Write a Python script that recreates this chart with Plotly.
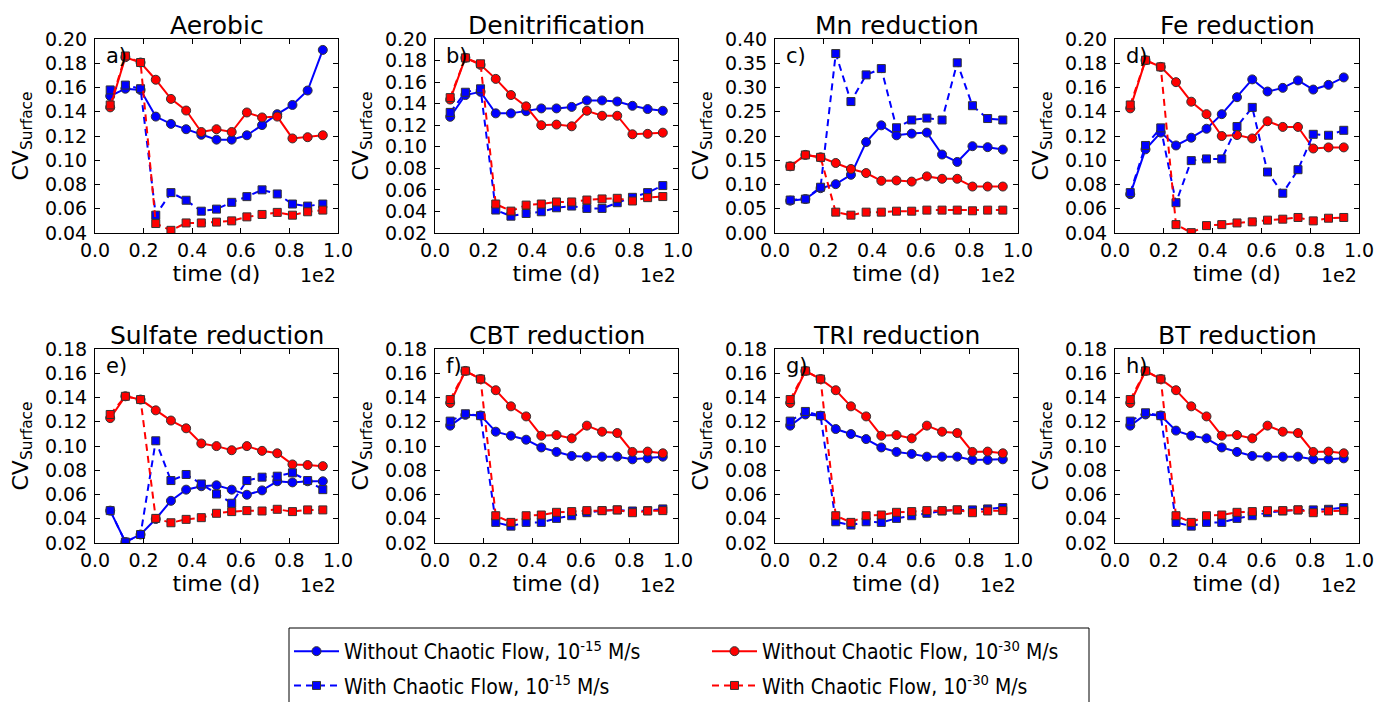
import plotly.graph_objects as go

W, H = 1375, 702

time_1e2 = [0.0625, 0.125, 0.1875, 0.25, 0.3125, 0.375, 0.4375, 0.5,
            0.5625, 0.625, 0.6875, 0.75, 0.8125, 0.875, 0.9375]

titles = ["Aerobic", "Denitrification", "Mn reduction", "Fe reduction",
          "Sulfate reduction", "CBT reduction", "TRI reduction", "BT reduction"]
letters = ["a)", "b)", "c)", "d)", "e)", "f)", "g)", "h)"]
y_ranges = [(0.04, 0.20), (0.02, 0.20), (0.0, 0.40), (0.04, 0.20),
            (0.02, 0.18), (0.02, 0.18), (0.02, 0.18), (0.02, 0.18)]
y_dticks = [0.02, 0.02, 0.05, 0.02, 0.02, 0.02, 0.02, 0.02]

# Without chaotic flow, 1e-15 M/s (blue solid)
blue_solid = [
    [0.153, 0.159, 0.158, 0.136, 0.130, 0.1256, 0.121, 0.117, 0.117, 0.1206, 0.129, 0.138, 0.1456, 0.1575, 0.191],
    [0.1278, 0.148, 0.151, 0.131, 0.131, 0.133, 0.1356, 0.1356, 0.137, 0.143, 0.143, 0.142, 0.138, 0.135, 0.1334],
    [0.0667, 0.070, 0.0924, 0.1007, 0.120, 0.1875, 0.222, 0.2014, 0.2049, 0.207, 0.1618, 0.1465, 0.179, 0.177, 0.172],
    [0.072, 0.109, 0.1228, 0.1122, 0.1186, 0.126, 0.138, 0.152, 0.1667, 0.1567, 0.1597, 0.1658, 0.1583, 0.1622, 0.1683],
    [0.0467, 0.0208, 0.027, 0.0398, 0.0548, 0.064, 0.0668, 0.0676, 0.064, 0.0598, 0.0634, 0.0709, 0.070, 0.0709, 0.0709],
    [0.1168, 0.1257, 0.1252, 0.1118, 0.1085, 0.1052, 0.0988, 0.0951, 0.0918, 0.0912, 0.0912, 0.0912, 0.089, 0.0898, 0.0912],
    [0.1168, 0.126, 0.125, 0.114, 0.1099, 0.1057, 0.0988, 0.0951, 0.0935, 0.0912, 0.0912, 0.0912, 0.0885, 0.0885, 0.089],
    [0.1168, 0.126, 0.1252, 0.1127, 0.1085, 0.1063, 0.0988, 0.0951, 0.0918, 0.0912, 0.0912, 0.0912, 0.089, 0.089, 0.0898],
]
# Without chaotic flow, 1e-30 M/s (red solid)
red_solid = [
    [0.1436, 0.185, 0.1806, 0.1664, 0.1506, 0.141, 0.1233, 0.1256, 0.1233, 0.1394, 0.1353, 0.136, 0.118, 0.119, 0.1206],
    [0.1438, 0.1825, 0.176, 0.163, 0.148, 0.1375, 0.120, 0.1206, 0.119, 0.1334, 0.1288, 0.1288, 0.1116, 0.112, 0.1131],
    [0.1375, 0.161, 0.156, 0.1444, 0.132, 0.1236, 0.1076, 0.1083, 0.106, 0.1167, 0.1118, 0.1118, 0.0958, 0.0958, 0.0958],
    [0.1428, 0.1825, 0.177, 0.1644, 0.1483, 0.138, 0.120, 0.1208, 0.118, 0.1322, 0.1275, 0.1275, 0.1097, 0.1106, 0.1106],
    [0.123, 0.141, 0.1383, 0.1294, 0.121, 0.1146, 0.1021, 0.0999, 0.0965, 0.0999, 0.096, 0.094, 0.0848, 0.0843, 0.0834],
    [0.1355, 0.1619, 0.1552, 0.146, 0.1327, 0.1244, 0.1085, 0.109, 0.1063, 0.1168, 0.1118, 0.1107, 0.0951, 0.0954, 0.094],
    [0.1355, 0.1619, 0.1552, 0.146, 0.1327, 0.1244, 0.1085, 0.109, 0.1063, 0.1168, 0.1118, 0.1107, 0.0951, 0.0954, 0.094],
    [0.1355, 0.1619, 0.1552, 0.146, 0.1327, 0.1244, 0.1085, 0.109, 0.1063, 0.1168, 0.1118, 0.1107, 0.0951, 0.0954, 0.094],
]
# With chaotic flow, 1e-15 M/s (blue dashed)
blue_dashed = [
    [0.158, 0.162, 0.159, 0.0547, 0.0733, 0.067, 0.058, 0.0597, 0.0653, 0.070, 0.0756, 0.0722, 0.0639, 0.0622, 0.0639],
    [0.1319, 0.1506, 0.1538, 0.0413, 0.0356, 0.0381, 0.0397, 0.0434, 0.045, 0.0428, 0.0428, 0.0481, 0.0531, 0.0575, 0.064],
    [0.068, 0.070, 0.0944, 0.370, 0.271, 0.326, 0.339, 0.217, 0.233, 0.237, 0.233, 0.351, 0.2625, 0.236, 0.233],
    [0.0733, 0.1122, 0.1267, 0.065, 0.0997, 0.1011, 0.1011, 0.1278, 0.1436, 0.0903, 0.0728, 0.0922, 0.1214, 0.1206, 0.1247],
    [0.0467, 0.0208, 0.027, 0.1043, 0.0715, 0.0765, 0.0687, 0.0604, 0.0528, 0.0715, 0.0743, 0.0751, 0.0779, 0.0715, 0.064],
    [0.1205, 0.1266, 0.125, 0.037, 0.0339, 0.037, 0.037, 0.0403, 0.0425, 0.045, 0.0467, 0.0473, 0.0464, 0.0467, 0.0481],
    [0.1205, 0.1285, 0.125, 0.0375, 0.0348, 0.0375, 0.037, 0.0403, 0.0425, 0.0445, 0.0464, 0.0473, 0.0473, 0.0481, 0.0492],
    [0.1205, 0.1274, 0.125, 0.037, 0.0339, 0.037, 0.037, 0.0403, 0.0425, 0.045, 0.0464, 0.0473, 0.0473, 0.0478, 0.0492],
]
# With chaotic flow, 1e-30 M/s (red dashed)
red_dashed = [
    [0.1456, 0.186, 0.1806, 0.0478, 0.0422, 0.0483, 0.0483, 0.049, 0.050, 0.0533, 0.0553, 0.057, 0.0547, 0.0575, 0.0589],
    [0.1456, 0.1825, 0.177, 0.0469, 0.0403, 0.0459, 0.0469, 0.0488, 0.0488, 0.0506, 0.0516, 0.0522, 0.0497, 0.0528, 0.0538],
    [0.1375, 0.161, 0.156, 0.043, 0.0368, 0.043, 0.043, 0.045, 0.045, 0.0472, 0.0472, 0.0472, 0.0458, 0.0472, 0.0472],
    [0.1456, 0.1825, 0.177, 0.0469, 0.0403, 0.0461, 0.0469, 0.0483, 0.0492, 0.0506, 0.0514, 0.0528, 0.050, 0.0522, 0.0528],
    [0.126, 0.141, 0.1383, 0.0403, 0.0367, 0.0395, 0.0409, 0.0445, 0.0459, 0.0467, 0.0464, 0.0478, 0.0459, 0.0473, 0.0473],
    [0.1383, 0.1619, 0.1552, 0.0425, 0.037, 0.0425, 0.0431, 0.0453, 0.0459, 0.0467, 0.0467, 0.0473, 0.045, 0.0464, 0.0467],
    [0.1383, 0.1619, 0.1552, 0.0425, 0.037, 0.0425, 0.0431, 0.0453, 0.0459, 0.0467, 0.0467, 0.0473, 0.045, 0.0464, 0.0467],
    [0.1383, 0.1619, 0.1552, 0.0425, 0.037, 0.0425, 0.0431, 0.0453, 0.0459, 0.0467, 0.0467, 0.0473, 0.045, 0.0464, 0.0467],
]

series_names = ["Without Chaotic Flow, 10<sup>-15</sup> M/s",
                "Without Chaotic Flow, 10<sup>-30</sup> M/s",
                "With Chaotic Flow, 10<sup>-15</sup> M/s",
                "With Chaotic Flow, 10<sup>-30</sup> M/s"]

BLUE, RED = "#0000ff", "#ff0000"
FONT = "DejaVu Sans"

# panel geometry in pixels
col_px = [(95, 338), (435, 678), (775, 1018), (1115, 1359)]
row_px = [(39, 233), (349, 543)]

fig = go.Figure()
layout = dict(width=W, height=H,
              margin=dict(l=0, r=0, t=0, b=0, autoexpand=False),
              paper_bgcolor="white", plot_bgcolor="white",
              font=dict(family=FONT, size=19, color="black"))
annotations = []

# (data, colour, dash, symbol, size, name, legend column)
styles = [
    (blue_solid, BLUE, "solid", "circle", 9, series_names[0], "legend"),
    (red_solid, RED, "solid", "circle", 9, series_names[1], "legend2"),
    (blue_dashed, BLUE, "7px,5px", "square", 8, series_names[2], "legend"),
    (red_dashed, RED, "7px,5px", "square", 8, series_names[3], "legend2"),
]

for i in range(8):
    r, c = divmod(i, 4)
    xa = "x" if i == 0 else f"x{i+1}"
    ya = "y" if i == 0 else f"y{i+1}"
    xk = "xaxis" if i == 0 else f"xaxis{i+1}"
    yk = "yaxis" if i == 0 else f"yaxis{i+1}"
    x0, x1 = col_px[c]
    y0, y1 = row_px[r]
    axis_common = dict(showgrid=False, zeroline=False, showline=True, linecolor="black",
                       linewidth=1, mirror="ticks", ticks="inside", ticklen=5,
                       tickcolor="black", tickwidth=1, automargin=False,
                       tickfont=dict(family=FONT, size=19, color="black"))
    layout[xk] = dict(axis_common, domain=[x0 / W, x1 / W], anchor=ya,
                      range=[0, 1.0], dtick=0.2, tick0=0, tickformat=".1f",
                      ticklabelstandoff=0,
                      title=dict(text="time (d)", font=dict(family=FONT, size=22), standoff=2))
    lo, hi = y_ranges[i]
    layout[yk] = dict(axis_common, domain=[1 - y1 / H, 1 - y0 / H], anchor=xa,
                      range=[lo, hi], dtick=y_dticks[i], tick0=0, tickformat=".2f",
                      ticklabelstandoff=3,
                      title=dict(text="CV<sub>Surface</sub>", font=dict(family=FONT, size=22),
                                 standoff=10))
    for data, color, dash, sym, msize, name, leg in styles:
        fig.add_trace(go.Scatter(
            x=time_1e2, y=data[i], xaxis=xa, yaxis=ya, mode="lines+markers",
            name=name, legend=leg, legendgroup=name, showlegend=(i == 0),
            line=dict(color=color, width=2, dash=dash),
            marker=dict(symbol=sym, size=msize, color=color,
                        line=dict(color="#333333", width=1))))
    xd = xa + " domain"
    yd = ya + " domain"
    annotations.append(dict(text=titles[i], xref=xd, yref=yd, x=0.5, y=1.0,
                            yshift=-3, xanchor="center", yanchor="bottom",
                            showarrow=False, font=dict(family=FONT, size=25)))
    annotations.append(dict(text=letters[i], xref=xd, yref=yd, x=0.035, y=0.985,
                            xanchor="left", yanchor="top", showarrow=False,
                            font=dict(family=FONT, size=21)))
    annotations.append(dict(text="1e2", xref=xd, yref=yd, x=1.0, y=0.0,
                            yshift=-42, xanchor="right", yanchor="middle",
                            showarrow=False, font=dict(family=FONT, size=19)))

layout["annotations"] = annotations

legend_common = dict(orientation="v", yanchor="top", xanchor="left", y=1 - 631 / H,
                     borderwidth=0, bgcolor="rgba(0,0,0,0)", itemwidth=45,
                     tracegroupgap=4,
                     font=dict(family="DejaVu Sans Condensed", size=21, color="black"))
layout["legend"] = dict(legend_common, x=289 / W)
layout["legend2"] = dict(legend_common, x=707 / W)
layout["showlegend"] = True
# frame around the two legend columns
layout["shapes"] = [dict(type="rect", xref="paper", yref="paper",
                         x0=289 / W, x1=1089 / W, y0=-0.05, y1=1 - 628 / H,
                         line=dict(color="black", width=1), fillcolor="rgba(0,0,0,0)")]
fig.update_layout(**layout)
fig.write_html("out.html")
